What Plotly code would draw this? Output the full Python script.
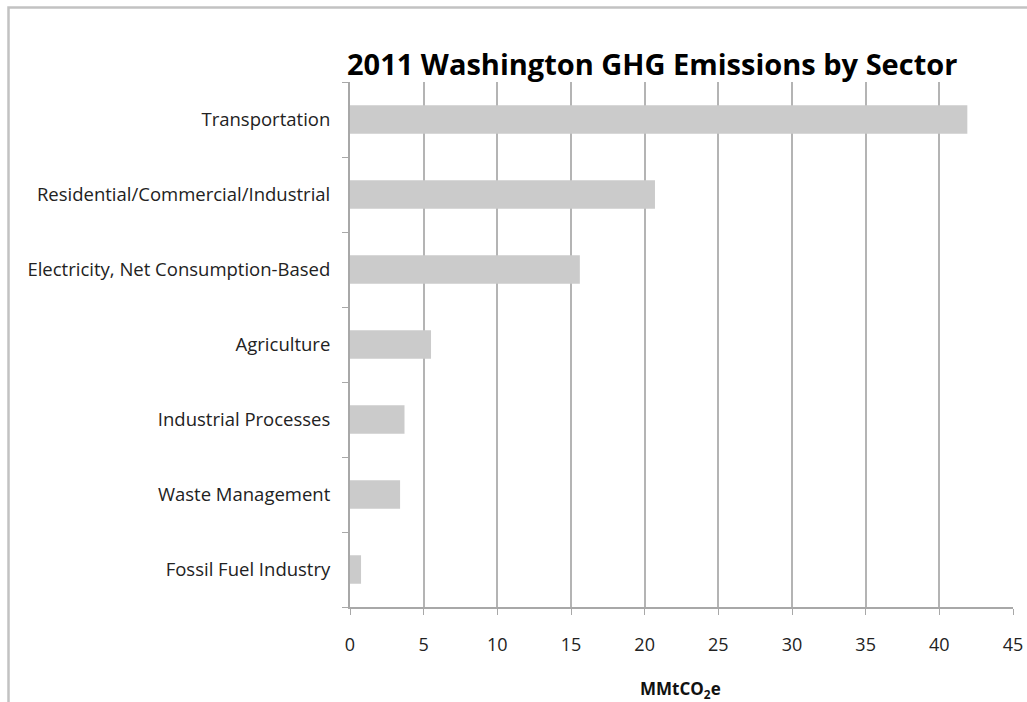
import plotly.graph_objects as go

# 2011 Washington greenhouse-gas emissions, million metric tons CO2e
sectors = [
    "Transportation",
    "Residential/Commercial/Industrial",
    "Electricity, Net Consumption-Based",
    "Agriculture",
    "Industrial Processes",
    "Waste Management",
    "Fossil Fuel Industry",
]
emissions = [41.9, 20.7, 15.6, 5.5, 3.7, 3.4, 0.75]
x_ticks = [0, 5, 10, 15, 20, 25, 30, 35, 40, 45]

W, H = 1027, 702
ML, MR, MT, MB = 350, 14, 82, 95
pw, ph = W - ML - MR, H - MT - MB


def px_x(px):
    return (px - ML) / pw


def px_y(py):
    return (H - MB - py) / ph


fig = go.Figure(
    go.Bar(
        x=emissions,
        y=sectors,
        orientation="h",
        width=0.38,
        marker=dict(color="#cbcbcb", line=dict(width=0)),
    )
)

fig.update_layout(
    width=W,
    height=H,
    margin=dict(l=ML, r=MR, t=MT, b=MB),
    paper_bgcolor="white",
    plot_bgcolor="white",
    showlegend=False,
    font=dict(family="Open Sans", color="#222222"),
    xaxis=dict(
        range=[0, 45],
        tickvals=x_ticks,
        ticktext=[str(v) for v in x_ticks],
        automargin=False,
        showgrid=True,
        gridcolor="#b4b4b4",
        gridwidth=2,
        zeroline=False,
        showline=True,
        linecolor="#a8a8a8",
        linewidth=2,
        ticks="outside",
        ticklen=6,
        tickcolor="#a8a8a8",
        tickwidth=1,
        ticklabelstandoff=14,
        tickfont=dict(size=18, color="#222222"),
    ),
    yaxis=dict(
        categoryorder="array",
        categoryarray=sectors[::-1],
        automargin=False,
        showgrid=False,
        zeroline=False,
        showline=True,
        linecolor="#a8a8a8",
        linewidth=2,
        ticks="outside",
        tickson="boundaries",
        ticklen=6,
        tickcolor="#a8a8a8",
        tickwidth=1,
        tickfont=dict(size=18.5, color="#222222"),
        ticklabelstandoff=14,
    ),
    annotations=[
        dict(
            text="<b>2011 Washington GHG Emissions by Sector</b>",
            xref="paper",
            yref="paper",
            x=px_x(652),
            y=px_y(63),
            xanchor="center",
            yanchor="middle",
            showarrow=False,
            font=dict(family="Open Sans", size=29, color="#000000"),
        ),
        dict(
            text="<b>MMtCO<sub>2</sub>e</b>",
            xref="paper",
            yref="paper",
            x=px_x(680),
            y=px_y(689),
            xanchor="center",
            yanchor="middle",
            showarrow=False,
            font=dict(family="Open Sans", size=17, color="#111111"),
        ),
    ],
    shapes=[
        dict(
            type="rect",
            xref="paper",
            yref="paper",
            x0=px_x(8.5),
            y0=px_y(760),
            x1=px_x(1100),
            y1=px_y(7.5),
            line=dict(color="#c2c2c2", width=2.5),
            fillcolor="rgba(0,0,0,0)",
            layer="below",
        )
    ],
)

fig.write_html("out.html")
